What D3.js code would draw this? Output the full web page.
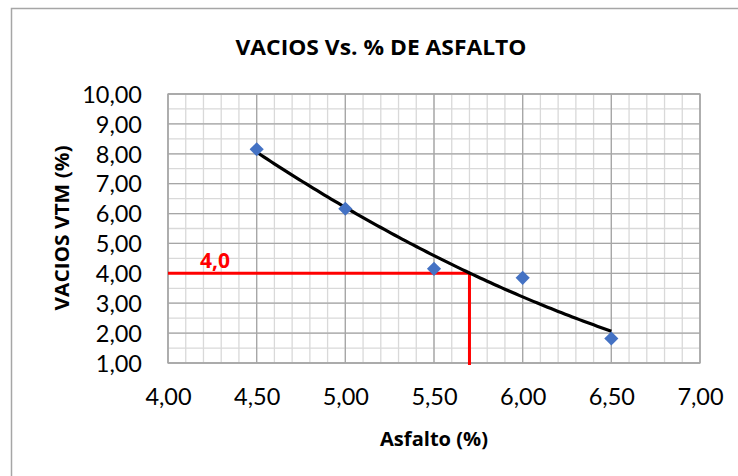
<!DOCTYPE html>
<html>
<head>
<meta charset="utf-8">
<script src="https://cdn.jsdelivr.net/npm/d3@7"></script>
<style>
  html, body { margin: 0; padding: 0; background: #fff; }
  svg { display: block; }
</style>
</head>
<body>
<svg id="chart" width="738" height="476"></svg>
<script>
// ---- data ----
const asfalto = [4.5, 5.0, 5.5, 6.0, 6.5];
const vacios = [8.15, 6.16, 4.15, 3.85, 1.82];
const xTicks = [4.0, 4.5, 5.0, 5.5, 6.0, 6.5, 7.0];
const yTicks = [1, 2, 3, 4, 5, 6, 7, 8, 9, 10];
const targetVacios = 4.0;
const optimoAsfalto = 5.70;
const targetLabel = "4,0";
const titleText = "VACIOS Vs. % DE ASFALTO";
const xTitle = "Asfalto (%)";
const yTitle = "VACIOS VTM (%)";

(function () {
// ---- layout ----
const svg = d3.select("#chart");
const pL = 168, pR = 700, pT = 94, pB = 363;
const x = d3.scaleLinear().domain([4, 7]).range([pL, pR]);
const y = d3.scaleLinear().domain([1, 10]).range([pB, pT]);
const fmt = v => d3.format(".2f")(v).replace(".", ",");
const font = "Lato, 'Open Sans', sans-serif";
const boldFont = "'Open Sans', Lato, sans-serif";

// outer chart border (top and left visible)
svg.append("path")
  .attr("d", "M11.5,476 V8.5 H738")
  .attr("fill", "none").attr("stroke", "#a6a6a6").attr("stroke-width", 1.5);

// minor grid
const g = svg.append("g");
const xMinor = d3.range(40, 71, 1).map(v => v / 10);
const yMinor = d3.range(2, 21, 1).map(v => v / 2);
g.selectAll(".xm").data(xMinor).join("line")
  .attr("x1", d => x(d)).attr("x2", d => x(d)).attr("y1", pT).attr("y2", pB)
  .attr("stroke", "#d9d9d9").attr("stroke-width", 1.3);
g.selectAll(".ym").data(yMinor).join("line")
  .attr("y1", d => y(d)).attr("y2", d => y(d)).attr("x1", pL).attr("x2", pR)
  .attr("stroke", "#d9d9d9").attr("stroke-width", 1.3);
// major grid
g.selectAll(".xM").data(xTicks).join("line")
  .attr("x1", d => x(d)).attr("x2", d => x(d)).attr("y1", pT).attr("y2", pB)
  .attr("stroke", "#a6a6a6").attr("stroke-width", 1.3);
g.selectAll(".yM").data(yTicks).join("line")
  .attr("y1", d => y(d)).attr("y2", d => y(d)).attr("x1", pL).attr("x2", pR)
  .attr("stroke", "#a6a6a6").attr("stroke-width", 1.3);

// axes labels via d3 axes
const xAxis = svg.append("g").attr("transform", `translate(0,${pB})`)
  .call(d3.axisBottom(x).tickValues(xTicks).tickFormat(fmt).tickSize(0).tickPadding(25));
const yAxis = svg.append("g").attr("transform", `translate(${pL},0)`)
  .call(d3.axisLeft(y).tickValues(yTicks).tickFormat(fmt).tickSize(0).tickPadding(26));
[xAxis, yAxis].forEach(a => {
  a.select(".domain").remove();
  a.selectAll("text").attr("font-family", font).attr("font-size", 23.5).attr("fill", "#000");
});
yAxis.selectAll("text").attr("dy", "0.35em");

// plot border
svg.append("rect").attr("x", pL).attr("y", pT).attr("width", pR - pL).attr("height", pB - pT)
  .attr("fill", "none").attr("stroke", "#a6a6a6").attr("stroke-width", 1.3);

// red guide lines
svg.append("path")
  .attr("d", `M${x(4)},${y(targetVacios)} H${x(optimoAsfalto)} V${pB + 2}`)
  .attr("fill", "none").attr("stroke", "#ff0000").attr("stroke-width", 3)
  .attr("stroke-linejoin", "round");
svg.append("text").attr("x", 215).attr("y", y(targetVacios) - 5)
  .attr("text-anchor", "middle").attr("font-family", boldFont).attr("font-weight", "bold")
  .attr("font-size", 21).attr("fill", "#ff0000").text(targetLabel);

// quadratic trendline (least squares fit of the data)
const n = asfalto.length;
const mx = d3.mean(asfalto);
const t = asfalto.map(v => v - mx);
const t2m = d3.mean(t.map(v => v * v));
const my = d3.mean(vacios);
const b1 = d3.sum(t.map((v, i) => v * vacios[i])) / d3.sum(t.map(v => v * v));
const q = t.map(v => v * v - t2m);
const b2 = d3.sum(q.map((v, i) => v * vacios[i])) / d3.sum(q.map(v => v * v));
const fit = xv => { const tt = xv - mx; return my + b1 * tt + b2 * (tt * tt - t2m); };
const trend = d3.range(0, 101).map(i => {
  const xv = asfalto[0] + (asfalto[n - 1] - asfalto[0]) * i / 100;
  return [xv, fit(xv)];
});
svg.append("path").datum(trend)
  .attr("d", d3.line().x(d => x(d[0])).y(d => y(d[1])))
  .attr("fill", "none").attr("stroke", "#000").attr("stroke-width", 3.2);

// markers
svg.selectAll(".pt").data(asfalto).join("path")
  .attr("transform", (d, i) => `translate(${x(d)},${y(vacios[i])}) rotate(45)`)
  .attr("d", d3.symbol().type(d3.symbolSquare).size(100))
  .attr("fill", "#4472c4");

// titles
svg.append("text").attr("x", 381).attr("y", 55).attr("text-anchor", "middle")
  .attr("font-family", boldFont).attr("font-weight", "bold").attr("font-size", 20.5)
  .attr("textLength", 291).attr("lengthAdjust", "spacingAndGlyphs")
  .attr("fill", "#000").text(titleText);
svg.append("text").attr("x", 434).attr("y", 446).attr("text-anchor", "middle")
  .attr("font-family", boldFont).attr("font-weight", "bold").attr("font-size", 19)
  .attr("textLength", 108).attr("lengthAdjust", "spacingAndGlyphs")
  .attr("fill", "#000").text(xTitle);
svg.append("text").attr("transform", "translate(69,228) rotate(-90)").attr("text-anchor", "middle")
  .attr("font-family", boldFont).attr("font-weight", "bold").attr("font-size", 19)
  .attr("textLength", 165).attr("lengthAdjust", "spacingAndGlyphs")
  .attr("fill", "#000").text(yTitle);
})();
</script>
</body>
</html>
